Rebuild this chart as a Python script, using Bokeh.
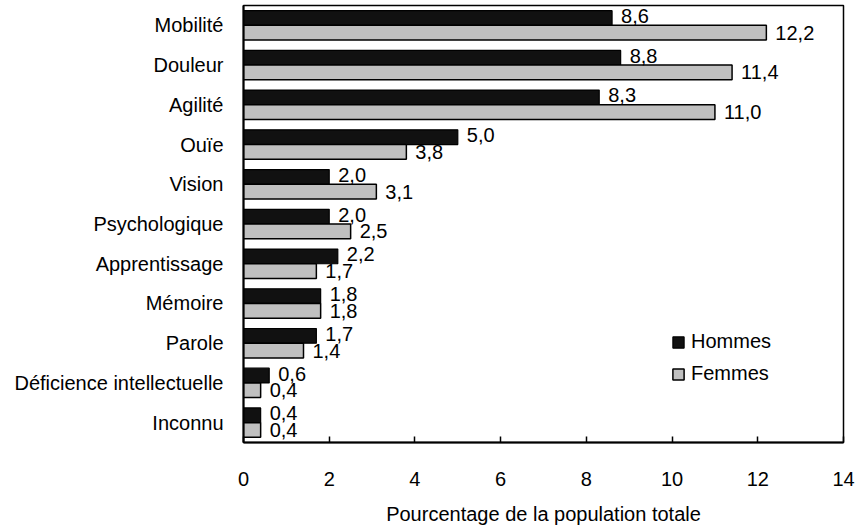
from bokeh.plotting import figure
from bokeh.models import ColumnDataSource, FactorRange, Range1d, FixedTicker, Legend, LegendItem
from bokeh.transform import dodge
from bokeh.core.properties import value
from bokeh.embed import file_html
from bokeh.resources import INLINE

categories = ["Mobilité", "Douleur", "Agilité", "Ouïe", "Vision", "Psychologique",
              "Apprentissage", "Mémoire", "Parole", "Déficience intellectuelle", "Inconnu"]
hommes = [8.6, 8.8, 8.3, 5.0, 2.0, 2.0, 2.2, 1.8, 1.7, 0.6, 0.4]
femmes = [12.2, 11.4, 11.0, 3.8, 3.1, 2.5, 1.7, 1.8, 1.4, 0.4, 0.4]
x_ticks = [0, 2, 4, 6, 8, 10, 12, 14]
x_title = "Pourcentage de la population totale"

FONT = "Liberation Sans"
FS = "20px"

def fmt(v):
    return f"{v:.1f}".replace(".", ",")

src = ColumnDataSource(dict(
    cat=categories,
    h=hommes,
    f=femmes,
    hl=[fmt(v) for v in hommes],
    fl=[fmt(v) for v in femmes],
))

p = figure(frame_width=600, frame_height=437, output_backend="svg", toolbar_location=None,
           y_range=FactorRange(factors=list(reversed(categories))),
           x_range=Range1d(0, 14))
p.min_border_left = 243
p.min_border_right = 12
p.min_border_top = 5
p.min_border_bottom = 10
p.background_fill_color = "white"
p.border_fill_color = "white"
p.outline_line_color = "black"
p.outline_line_width = 1.5
p.xgrid.grid_line_color = None
p.ygrid.grid_line_color = None

bw = 0.37
rh = p.hbar(y=dodge("cat", 0.185, range=p.y_range), right="h", left=0, height=bw,
            source=src, fill_color="#111111", line_color="black", line_width=1.2)
rf = p.hbar(y=dodge("cat", -0.185, range=p.y_range), right="f", left=0, height=bw,
            source=src, fill_color="#c0c0c0", line_color="black", line_width=1.5)

p.text(x="h", y=dodge("cat", 0.185, range=p.y_range), text="hl", source=src,
       x_offset=9, y_offset=-2, text_baseline="middle", text_align="left",
       text_font=value(FONT), text_font_size=value(FS), text_color="black")
p.text(x="f", y=dodge("cat", -0.185, range=p.y_range), text="fl", source=src,
       x_offset=9, y_offset=0, text_baseline="middle", text_align="left",
       text_font=value(FONT), text_font_size=value(FS), text_color="black")

# x axis
xa = p.xaxis[0]
xa.ticker = FixedTicker(ticks=x_ticks)
xa.minor_tick_line_color = None
xa.major_tick_in = 6
xa.major_tick_out = 0
xa.major_tick_line_width = 1.5
xa.major_tick_line_color = "black"
xa.axis_line_width = 2
xa.axis_line_color = "black"
xa.major_label_text_font = FONT
xa.major_label_text_font_size = FS
xa.major_label_text_color = "black"
xa.major_label_standoff = 29
xa.axis_label = x_title
xa.axis_label_text_font = FONT
xa.axis_label_text_font_size = FS
xa.axis_label_text_font_style = "normal"
xa.axis_label_text_color = "black"
xa.axis_label_standoff = 14

# y axis
ya = p.yaxis[0]
ya.major_tick_line_color = None
ya.minor_tick_line_color = None
ya.axis_line_width = 2
ya.axis_line_color = "black"
ya.major_label_text_font = FONT
ya.major_label_text_font_size = FS
ya.major_label_text_color = "black"
ya.major_label_standoff = 14

legend = Legend(items=[LegendItem(label="Hommes", renderers=[rh]),
                       LegendItem(label="Femmes", renderers=[rf])],
                location=(428, 57))
legend.background_fill_alpha = 0
legend.border_line_color = None
legend.padding = 0
legend.margin = 0
legend.glyph_width = 14
legend.glyph_height = 14
legend.label_standoff = 6
legend.spacing = 9
legend.label_text_font = FONT
legend.label_text_font_size = FS
legend.label_text_color = "black"
p.add_layout(legend, "center")

open("out.html", "w").write(file_html(p, INLINE))
